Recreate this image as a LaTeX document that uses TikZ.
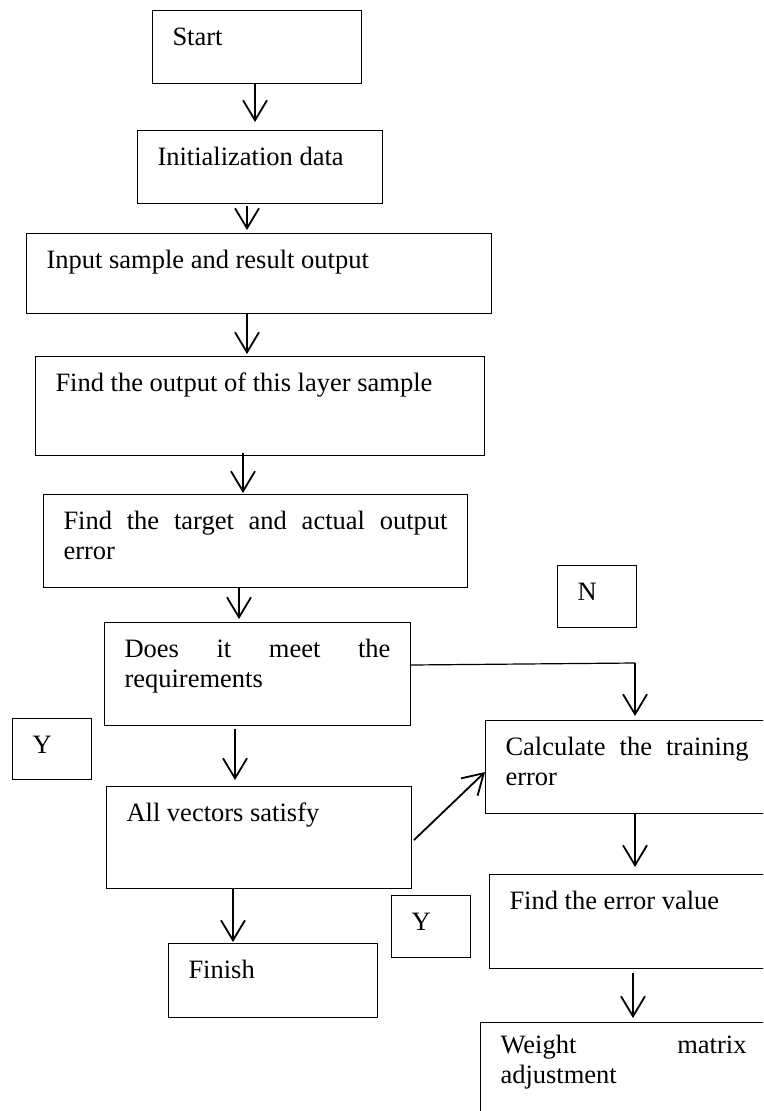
\documentclass[tikz,border=0pt]{standalone}
\usepackage{fontspec}
\setmainfont{Liberation Serif}
\usetikzlibrary{arrows.meta,calc}
\hyphenpenalty=10000
\exhyphenpenalty=10000
\tolerance=10000
\hbadness=10000
\begin{document}
\begin{tikzpicture}[x=1pt,y=-1pt,
  bx/.style={draw, line width=1pt, rectangle, anchor=north west,
    inner xsep=20pt, inner ysep=14pt, text height=21pt, align=justify,
    font=\fontsize{26.5}{30}\selectfont},
  arr/.style={line width=1.8pt, -{Straight Barb[length=20pt,width=24pt]}},
  thinline/.style={line width=1.2pt}]
\useasboundingbox (0,0) rectangle (763,1111);
\fill[white] (0,0) rectangle (763,1111);
\clip (0,0) rectangle (763,1111);

\node[bx, text width=169pt, text depth=24pt] (start) at (152,10) {Start};
\node[bx, text width=205pt, text depth=24pt] (init) at (137,130) {Initialization data};
\node[bx, text width=425pt, text depth=31pt] (input) at (26,233) {Input sample and result output};
\node[bx, text width=409pt, text depth=50pt] (layer) at (35,356) {Find the output of this layer sample};
\node[bx, text width=384pt, text depth=44pt] (target) at (43,494) {Find the target and actual output error};
\node[bx, text width=266pt, text depth=54pt] (does) at (104,622) {Does it meet the requirements};
\node[bx, text width=39pt, text depth=12pt] (y1) at (12,718) {Y};
\node[bx, text width=39pt, text depth=13pt] (n) at (557,565) {N};
\node[bx, text width=39pt, text depth=13pt] (y2) at (391,895) {Y};
\node[bx, text width=243pt, text depth=44pt] (calc) at (485,720) {Calculate the training error};
\node[bx, text width=265pt, text depth=53pt] (all) at (106,786) {All vectors satisfy};
\node[bx, text width=237pt, text depth=45pt] (ferr) at (489,874) {Find the error value};
\node[bx, text width=169pt, text depth=25pt] (finish) at (168,943) {Finish};
\node[bx, inner ysep=10pt, text width=246pt, text depth=59pt] (weight) at (480,1022) {Weight matrix adjustment};

\draw[arr] ($(start.south west)+(103,0)$) -- ($(init.north west)+(118,-8)$);
\draw[arr] ($(init.south west)+(110,2)$) -- ($(input.north west)+(221,-3)$);
\draw[arr] ($(input.south west)+(221,0)$) -- ($(layer.north west)+(212,-2)$);
\draw[arr] ($(layer.south west)+(208,-3)$) -- ($(target.north west)+(200,-1)$);
\draw[arr] ($(target.south west)+(196,0)$) -- ($(does.north west)+(135,-3)$);
\draw[arr] ($(does.south west)+(131,3)$) -- ($(all.north west)+(129,-6)$);
\draw[arr] ($(all.south west)+(127,0)$) -- ($(finish.north west)+(65,-1)$);
\coordinate (nb) at (635,663);
\draw[thinline] ($(does.north east)+(0,43)$) -- (nb);
\draw[arr] (nb) -- ($(calc.north west)+(150,-4)$);
\draw[arr] ($(all.north east)+(2,54)$) -- ($(calc.north west)+(0,52)$);
\draw[arr] ($(calc.south west)+(150,0)$) -- ($(ferr.north west)+(146,-7)$);
\draw[arr] ($(ferr.south west)+(144,4)$) -- ($(weight.north west)+(153,-4)$);
\end{tikzpicture}
\end{document}
